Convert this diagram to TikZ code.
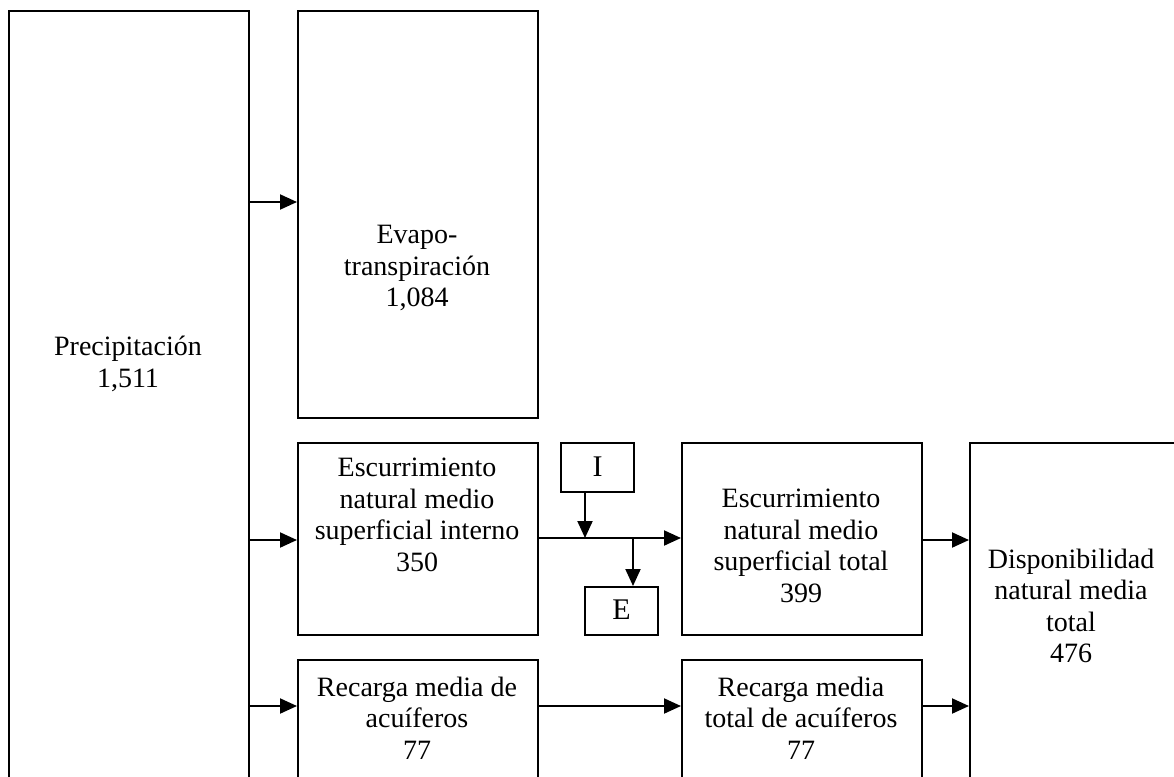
\documentclass[tikz,border=0pt]{standalone}
\usepackage{fontspec}
\setmainfont{Liberation Serif}
\usetikzlibrary{arrows.meta}
\begin{document}
\begin{tikzpicture}[x=1pt,y=-1pt,
  box/.style={draw,line width=2pt,rectangle,inner sep=0pt,anchor=north west},
  lbl/.style={align=center,font=\fontsize{28}{31.5}\selectfont,inner sep=0pt},
  arr/.style={line width=2pt,-{Triangle[length=17pt,width=15pt]}}]
\useasboundingbox (0,0) rectangle (1174,776);
\clip (0,0) rectangle (1174,776);
% boxes
\node[box,minimum width=240pt,minimum height=800pt] (precip) at (8,10) {};
\node[box,minimum width=240pt,minimum height=407pt] (evapo) at (297,10) {};
\node[box,minimum width=240pt,minimum height=192pt] (escint) at (297,442) {};
\node[box,minimum width=240pt,minimum height=192pt] (esctot) at (681,442) {};
\node[box,minimum width=240pt,minimum height=200pt] (rec) at (297,659) {};
\node[box,minimum width=240pt,minimum height=200pt] (rectot) at (681,659) {};
\node[box,minimum width=260pt,minimum height=400pt] (disp) at (969,442) {};
\node[box,minimum width=73pt,minimum height=49pt] (ibox) at (560,442) {};
\node[box,minimum width=73pt,minimum height=48pt] (ebox) at (584,586) {};
% labels
\node[lbl] (tprecip) at (128,364) {Precipitación\\1,511};
\node[lbl] (tevapo) at (417,268) {Evapo-\\transpiración\\1,084};
\node[lbl] (tescint) at (417,515) {Escurrimiento\\natural medio\\superficial interno\\350};
\node[lbl] (tesctot) at (801,546) {Escurrimiento\\natural medio\\superficial total\\399};
\node[lbl] (tdisp) at (1071,606) {Disponibilidad\\natural media\\total\\476};
\node[lbl] (trec) at (417,718) {Recarga media de\\acuíferos\\77};
\node[lbl] (trectot) at (801,718) {Recarga media\\total de acuíferos\\77};
\node[lbl,font=\fontsize{30}{34}\selectfont] (ti) at ([yshift=1pt]ibox.center) {I};
\node[lbl,font=\fontsize{30}{34}\selectfont] (te) at ([yshift=1pt]ebox.center) {E};
% arrow rows
\coordinate (r1) at (0,202);
\coordinate (r2) at (0,540);
\coordinate (r3) at (0,706);
\coordinate (mid) at (0,538);
\coordinate (xi) at (585,0);
\coordinate (xe) at (633,0);
\draw[arr] (precip.east |- r1) -- (evapo.west |- r1);
\draw[arr] (precip.east |- r2) -- (escint.west |- r2);
\draw[arr] (precip.east |- r3) -- (rec.west |- r3);
\draw[arr] (escint.east |- mid) -- (esctot.west |- mid);
\draw[arr] (ibox.south -| xi) -- (xi |- mid);
\draw[arr] (xe |- mid) -- (ebox.north -| xe);
\draw[arr] (esctot.east |- r2) -- (disp.west |- r2);
\draw[arr] (rec.east |- r3) -- (rectot.west |- r3);
\draw[arr] (rectot.east |- r3) -- (disp.west |- r3);
\end{tikzpicture}
\end{document}
